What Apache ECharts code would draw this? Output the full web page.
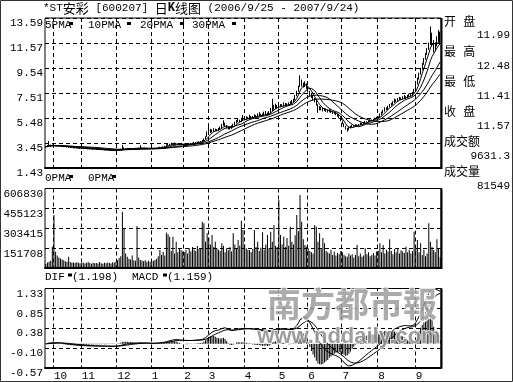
<!DOCTYPE html>
<html><head><meta charset="utf-8">
<script src="https://cdn.jsdelivr.net/npm/echarts@6/dist/echarts.min.js"></script>
<style>html,body{margin:0;padding:0;background:#fff}#c{width:513px;height:382px}</style>
</head><body><div id="c"></div>
<script>
// month labels and number of trading days shown in each month
const monthNames = ['9','10','11','12','1','2','3','4','5','6','7','8','9'];
const monthDays  = [5,17,22,21,20,15,22,21,18,21,22,23,16];

const open = [
 3.12,3.15,3.22,3.30,3.25,
 3.30,3.26,3.22,3.19,3.24,3.21,3.18,3.14,3.16,3.12,3.09,3.12,3.08,3.04,3.06,3.04,3.01,
 3.03,3.02,2.99,3.01,2.98,2.96,2.99,2.96,2.94,2.97,2.94,2.91,2.93,2.89,2.91,2.88,2.86,2.89,2.86,2.85,2.87,2.84,
 2.86,2.88,2.90,2.96,3.05,3.00,2.98,3.02,3.00,3.03,3.01,3.00,3.04,3.02,3.05,3.08,3.03,3.02,3.04,3.00,3.01,
 2.99,3.00,3.02,3.05,3.04,3.08,3.12,3.10,3.15,3.18,3.28,3.35,3.32,3.40,3.36,3.42,3.38,3.33,3.30,3.32,
 3.36,3.35,3.30,3.38,3.42,3.40,3.45,3.50,3.48,3.52,3.55,3.60,3.63,3.82,4.00,
 4.15,4.30,4.45,4.40,4.55,4.50,4.48,4.60,4.70,4.90,5.05,4.85,4.70,4.62,4.65,4.80,4.95,5.10,5.25,5.30,5.20,5.35,
 5.45,5.40,5.50,5.45,5.60,5.50,5.55,5.65,5.60,5.70,5.75,5.68,5.72,5.80,5.85,5.78,5.90,6.10,6.40,6.30,6.45,
 6.35,6.40,6.50,6.45,6.60,6.55,6.54,6.62,6.70,6.80,6.95,7.30,7.66,8.04,8.44,8.20,8.10,8.25,
 8.00,7.60,7.35,7.22,7.00,6.86,6.52,6.25,6.30,6.20,6.13,6.18,6.05,6.00,6.08,5.95,5.86,5.90,5.75,5.65,5.50,
 5.25,5.00,4.78,4.60,4.55,4.70,4.78,4.85,4.80,4.92,4.88,4.95,5.05,5.00,5.10,5.19,5.15,5.25,5.32,5.28,5.38,5.46,
 5.50,5.55,5.75,5.90,6.05,6.27,6.20,6.40,6.54,6.60,6.75,6.94,6.85,7.00,7.08,7.02,7.15,7.21,7.10,7.25,7.35,7.30,7.50,
 7.80,8.30,8.70,9.10,9.50,9.90,10.30,10.70,11.10,11.60,12.20,11.60,11.00,11.40,11.80,11.99
];
const close = [
 3.15,3.22,3.30,3.25,3.28,
 3.25,3.22,3.20,3.24,3.20,3.18,3.15,3.16,3.12,3.10,3.12,3.08,3.05,3.06,3.04,3.02,3.03,
 3.02,3.00,3.01,2.98,2.97,2.99,2.96,2.95,2.97,2.94,2.92,2.93,2.90,2.91,2.88,2.87,2.89,2.86,2.85,2.87,2.84,2.86,
 2.88,2.90,2.95,3.05,3.00,2.98,3.02,3.00,3.03,3.01,3.00,3.04,3.02,3.05,3.08,3.03,3.02,3.04,3.00,3.01,2.99,
 3.00,3.02,3.05,3.04,3.08,3.12,3.10,3.15,3.18,3.28,3.35,3.32,3.40,3.36,3.42,3.38,3.33,3.30,3.32,3.35,
 3.35,3.30,3.38,3.42,3.40,3.45,3.50,3.48,3.52,3.55,3.58,3.62,3.80,3.99,4.15,
 4.30,4.45,4.40,4.55,4.50,4.48,4.60,4.70,4.90,5.05,4.85,4.70,4.62,4.65,4.80,4.95,5.10,5.25,5.30,5.20,5.35,5.45,
 5.40,5.50,5.45,5.60,5.50,5.55,5.65,5.60,5.70,5.75,5.68,5.72,5.80,5.85,5.78,5.90,6.10,6.40,6.30,6.45,6.35,
 6.40,6.50,6.45,6.60,6.55,6.54,6.62,6.70,6.80,6.95,7.30,7.66,8.04,8.44,8.20,8.10,8.25,8.00,
 7.60,7.35,7.22,7.00,6.86,6.52,6.25,6.30,6.20,6.13,6.18,6.05,6.00,6.08,5.95,5.86,5.90,5.75,5.65,5.50,5.25,
 5.00,4.78,4.60,4.55,4.70,4.78,4.85,4.80,4.92,4.88,4.95,5.05,5.00,5.10,5.19,5.15,5.25,5.32,5.28,5.38,5.46,5.50,
 5.55,5.75,5.90,6.05,6.27,6.20,6.40,6.54,6.60,6.75,6.94,6.85,7.00,7.08,7.02,7.15,7.21,7.10,7.25,7.35,7.30,7.50,7.75,
 8.30,8.70,9.10,9.50,9.90,10.30,10.70,11.10,11.50,12.20,11.60,11.00,11.40,11.80,12.00,11.57
];
const low = [
 3.08,3.12,3.18,3.20,3.22,
 3.20,3.18,3.16,3.17,3.18,3.15,3.12,3.12,3.10,3.07,3.07,3.05,3.02,3.02,3.01,2.99,2.99,
 2.99,2.98,2.97,2.96,2.95,2.94,2.94,2.93,2.93,2.92,2.90,2.89,2.88,2.87,2.86,2.85,2.85,2.84,2.82,2.83,2.82,2.82,
 2.84,2.86,2.88,2.94,2.97,2.95,2.96,2.97,2.98,2.98,2.97,2.98,3.00,3.00,3.02,3.00,2.99,3.00,2.97,2.98,2.96,
 2.97,2.98,3.00,3.01,3.02,3.06,3.07,3.08,3.12,3.16,3.25,3.28,3.30,3.32,3.33,3.34,3.30,3.26,3.27,3.30,
 3.32,3.27,3.29,3.35,3.36,3.38,3.42,3.44,3.45,3.49,3.50,3.55,3.60,3.78,3.95,
 4.10,4.25,4.32,4.35,4.42,4.40,4.42,4.55,4.65,4.85,4.80,4.65,4.55,4.55,4.60,4.75,4.90,5.05,5.15,5.12,5.15,5.30,
 5.30,5.35,5.38,5.42,5.45,5.45,5.50,5.52,5.55,5.65,5.60,5.62,5.68,5.72,5.70,5.75,5.85,6.05,6.15,6.22,6.25,
 6.25,6.35,6.38,6.40,6.48,6.45,6.48,6.55,6.65,6.75,6.90,7.25,7.60,8.00,8.05,7.95,8.00,7.85,
 7.55,7.25,7.10,6.90,6.75,6.50,5.90,6.10,6.10,6.02,6.05,5.98,5.92,5.95,5.88,5.80,5.80,5.70,5.60,5.45,5.22,
 4.98,4.75,4.55,4.38,4.50,4.65,4.72,4.74,4.76,4.82,4.84,4.90,4.95,4.97,5.05,5.10,5.12,5.20,5.24,5.25,5.35,5.42,
 5.45,5.50,5.70,5.85,6.00,6.12,6.15,6.35,6.48,6.55,6.70,6.78,6.82,6.95,6.95,7.00,7.10,7.02,7.08,7.20,7.22,7.28,7.45,
 7.75,8.20,8.60,9.00,9.40,9.80,10.20,10.60,11.00,11.40,11.30,10.80,10.90,11.30,11.60,11.41
];
const high = [
 3.20,3.30,3.62,3.33,3.32,
 3.40,3.30,3.26,3.28,3.26,3.23,3.20,3.19,3.18,3.14,3.15,3.13,3.10,3.09,3.08,3.06,3.06,
 3.06,3.04,3.03,3.03,3.00,3.01,3.00,2.98,2.99,2.98,2.95,2.95,2.94,2.93,2.92,2.90,2.91,2.90,2.88,2.89,2.88,2.88,
 2.91,2.93,3.00,3.30,3.10,3.03,3.05,3.04,3.06,3.05,3.03,3.07,3.06,3.08,3.28,3.10,3.06,3.07,3.05,3.04,3.03,
 3.03,3.05,3.08,3.08,3.11,3.15,3.14,3.18,3.22,3.35,3.42,3.40,3.48,3.45,3.50,3.46,3.40,3.36,3.36,3.40,
 3.42,3.38,3.40,3.46,3.45,3.48,3.54,3.53,3.56,3.60,3.62,3.70,3.82,4.00,4.40,
 4.80,4.60,4.55,4.65,4.62,4.58,4.68,4.80,5.00,5.30,5.10,4.90,4.75,4.72,4.88,5.02,5.18,5.32,5.42,5.35,5.50,5.72,
 5.55,5.62,5.58,5.75,5.65,5.65,5.78,5.72,5.85,5.95,5.82,5.85,6.00,6.05,5.92,6.05,6.30,7.05,6.55,6.65,6.55,
 6.55,6.62,6.60,6.75,6.70,6.68,6.75,6.85,6.95,7.05,7.35,7.70,8.10,8.95,8.60,8.35,8.45,8.30,
 8.05,7.70,7.50,7.35,7.10,6.95,6.60,6.45,6.40,6.30,6.30,6.25,6.15,6.20,6.15,6.05,6.00,5.95,5.82,5.72,5.55,
 5.28,5.05,4.85,4.68,4.75,4.85,4.92,4.90,4.98,4.96,5.00,5.12,5.08,5.15,5.25,5.22,5.30,5.38,5.36,5.42,5.52,5.58,
 5.62,5.85,6.00,6.15,6.35,6.35,6.48,6.62,6.70,6.85,7.05,7.00,7.10,7.20,7.15,7.25,7.35,7.25,7.35,7.45,7.42,7.60,7.85,
 8.30,8.75,9.15,9.55,9.95,10.35,10.75,11.15,11.60,12.90,12.40,11.80,11.60,12.10,12.60,12.48
];
const volume = [
 30000,42000,48000,55000,162000,
 404000,124000,95000,80000,72000,65000,60000,52000,48000,86000,45000,40000,42000,38000,44000,40000,36000,
 38000,42000,35000,40000,45000,38000,33000,41000,36000,39000,34000,45000,37000,32000,40000,36000,42000,38000,35000,44000,40000,48000,
 60000,76000,90000,430000,303000,110000,85000,70000,65000,95000,60000,55000,320000,80000,62000,58000,52000,60000,48000,55000,45000,
 50000,55000,62000,70000,90000,137000,100000,124000,95000,270000,257000,239000,130000,239000,110000,200000,120000,150000,137000,125000,
 120000,137000,110000,150000,125000,160000,140000,130000,168000,145000,150000,353000,341000,200000,265000,
 230000,180000,252000,160000,200000,150000,140000,130000,188000,170000,120000,150000,135000,160000,125000,265000,180000,150000,214000,170000,361000,290000,
 180000,150000,140000,137000,120000,145000,290000,160000,200000,130000,155000,272000,140000,180000,252000,150000,277000,200000,328000,170000,160000,
 519000,252000,180000,239000,160000,229000,170000,315000,200000,180000,250000,404000,280000,557000,353000,220000,176000,163000,
 150000,130000,120000,110000,328000,315000,200000,265000,150000,229000,188000,130000,120000,110000,140000,100000,125000,95000,115000,105000,130000,
 120000,100000,90000,85000,110000,95000,105000,80000,100000,176000,90000,110000,85000,95000,150000,105000,120000,90000,100000,115000,95000,125000,
 130000,188000,120000,176000,110000,140000,125000,219000,130000,105000,145000,120000,150000,110000,135000,125000,115000,163000,120000,140000,110000,130000,277000,
 150000,214000,120000,188000,100000,140000,90000,110000,341000,200000,160000,137000,120000,219000,150000,81549
];
const priceTicks = ['1.43','3.45','5.48','7.51','9.54','11.57','13.59'];
const volTicks   = ['','151708','303415','455123','606830'];
const macdTicks  = ['-0.57','-0.10','0.38','0.85','1.33'];
const priceRange = [1.43, 13.59];
const volRange   = [0, 606830];
const macdRange  = [-0.57, 1.33];
const maPeriods  = [5, 10, 20, 30];
const lastAmount = '9631.3';
const difValue = '1.198', deaValue = '1.159';

// categories (one per trading day), month boundaries
const categories = [];
const monthStart = new Set();
monthNames.forEach((m, k) => {
  if (k > 0) monthStart.add(categories.length);
  for (let d = 0; d < monthDays[k]; d++) categories.push(m + '-' + (d + 1));
});

// standard indicators from the close prices
function movingAverage(src, n) {
  return src.map((_, i) => {
    const s = Math.max(0, i - n + 1); let sum = 0;
    for (let j = s; j <= i; j++) sum += src[j];
    return +(sum / (i - s + 1)).toFixed(3);
  });
}
function ema(src, n) {
  const k = 2 / (n + 1), out = [];
  src.forEach((v, i) => out.push(i ? out[i - 1] + k * (v - out[i - 1]) : v));
  return out;
}
const e12 = ema(close, 12), e26 = ema(close, 26);
const dif = close.map((_, i) => e12[i] - e26[i]);
const dea = ema(dif, 9);
const macdBar = dif.map((v, i) => 2 * (v - dea[i]));

const FONT = "'Liberation Mono','DejaVu Sans Mono','Noto Sans CJK SC',monospace";
const GT = [18, 188.5, 288.5], GH = [150, 79.5, 79], GL = 45, GW = 396;
const dash = [4, 3];

function xAx(gi, showLabel) {
  return {
    type: 'category', gridIndex: gi, data: categories, boundaryGap: true,
    axisLine: {show: true, onZero: false, lineStyle: {color: '#000', width: 2}},
    axisTick: {show: false},
    axisLabel: {show: showLabel, interval: (i) => monthStart.has(i), formatter: v => v.split('-')[0],
      align: 'left', verticalAlign: 'top', margin: 3, color: '#000', fontFamily: FONT, fontSize: 11},
    splitLine: {show: true, interval: (i) => monthStart.has(i), lineStyle: {color: '#000', width: 1, type: dash}}
  };
}
function dataAx(gi, r) {
  return {type: 'value', gridIndex: gi, min: r[0], max: r[1], show: false, position: 'left', splitLine: {show: false}};
}
function tickAx(gi, labels) {
  return {
    type: 'value', gridIndex: gi, min: 0, max: labels.length - 1, interval: 1, position: 'left',
    axisLine: {show: false}, axisTick: {show: false},
    axisLabel: {formatter: v => labels[v] || '', verticalAlign: 'top', margin: 2, color: '#000', fontFamily: FONT, fontSize: 11},
    splitLine: {show: true, lineStyle: {color: '#000', width: 1, type: dash}}
  };
}

const series = [{
  type: 'candlestick', xAxisIndex: 0, yAxisIndex: 0, barWidth: 1,
  data: categories.map((_, i) => [open[i], close[i], low[i], high[i]]),
  itemStyle: {color: '#000', color0: '#000', borderColor: '#000', borderColor0: '#000', borderColorDoji: '#000', borderWidth: 1},
  silent: true
}];
maPeriods.forEach(n => series.push({
  type: 'line', xAxisIndex: 0, yAxisIndex: 0, data: movingAverage(close, n), symbol: 'none',
  lineStyle: {color: '#000', width: 1}, silent: true, z: 3
}));
series.push({type: 'bar', xAxisIndex: 1, yAxisIndex: 2, data: volume, barWidth: 1, itemStyle: {color: '#000'}, silent: true});
series.push({type: 'bar', xAxisIndex: 2, yAxisIndex: 4, data: macdBar, barWidth: 1, itemStyle: {color: '#000'}, silent: true});
series.push({type: 'line', xAxisIndex: 2, yAxisIndex: 4, data: dif, symbol: 'none', lineStyle: {color: '#000', width: 1}, silent: true});
series.push({type: 'line', xAxisIndex: 2, yAxisIndex: 4, data: dea, symbol: 'none', lineStyle: {color: '#000', width: 1}, silent: true});

function txt(text, x, y, extra) {
  return {type: 'text', z: 50, silent: true,
    style: Object.assign({text: text, x: x, y: y, fill: '#000', font: '11px ' + FONT, verticalAlign: 'middle', align: 'left'}, extra || {})};
}
function blk(x, y) { return {type: 'rect', z: 50, silent: true, shape: {x: x, y: y, width: 4, height: 3}, style: {fill: '#000'}}; }
const CJK = "12px 'Liberation Mono','Noto Sans CJK SC'";
const n = close.length - 1;
const cjkTok = {fontSize: 13, fontFamily: "'Noto Sans CJK SC'", fill: '#000'};
const graphic = [
  {type: 'rect', z: 60, silent: true, shape: {x: 0.5, y: 0.5, width: 512, height: 381}, style: {fill: 'none', stroke: '#333', lineWidth: 1}},
  {type: 'text', z: 50, silent: true, style: {text: '*ST{c|安彩} [600207] {c|日}{b|K}{c|线图} (2006/9/25 - 2007/9/24)', x: 43, y: 8,
    fill: '#000', font: '11px ' + FONT, verticalAlign: 'middle',
    rich: {b: {fontWeight: 'bold', fontSize: 12, fontFamily: FONT, fill: '#000'}, c: cjkTok}}},
  txt('5PMA', 45, 25), blk(69, 22), txt('10PMA', 88, 25), blk(127, 22),
  txt('20PMA', 140, 25), blk(180, 22), txt('30PMA', 192, 25), blk(232, 22),
  txt('0PMA', 45, 178), blk(69, 175), txt('0PMA', 88, 178), blk(112, 175),
  txt('DIF', 45, 277), blk(68, 273.5), txt('(' + difValue + ')', 72, 277),
  txt('MACD', 132, 277), blk(163, 273.5), txt('(' + deaValue + ')', 167, 277),
  txt('开 盘', 444, 23, {font: CJK}), txt(open[n].toFixed(2), 510, 35.5, {align: 'right'}),
  txt('最 高', 444, 53, {font: CJK}), txt(high[n].toFixed(2), 510, 66.5, {align: 'right'}),
  txt('最 低', 444, 83, {font: CJK}), txt(low[n].toFixed(2), 510, 96.5, {align: 'right'}),
  txt('收 盘', 444, 113, {font: CJK}), txt(close[n].toFixed(2), 510, 126.5, {align: 'right'}),
  txt('成交额', 444, 143, {font: CJK}), txt(lastAmount, 510, 156, {align: 'right'}),
  txt('成交量', 444, 173, {font: CJK}), txt(String(volume[n]), 510, 186, {align: 'right'}),
  {type: 'text', z: 100, silent: true, style: {text: '南方都市報', x: 352, y: 304, fill: 'rgba(150,150,150,0.8)', stroke: 'rgba(255,255,255,0.9)', lineWidth: 2,
    font: "bold 34px 'Noto Sans CJK SC'", align: 'center', verticalAlign: 'middle'}},
  {type: 'text', z: 100, silent: true, style: {text: 'www.nddaily.com', x: 349, y: 337, fill: 'rgba(140,140,140,0.85)', stroke: 'rgba(255,255,255,0.9)', lineWidth: 1.5,
    font: "bold 22px 'Liberation Sans'", align: 'center', verticalAlign: 'middle'}}
];
GT.forEach((t, i) => graphic.push({type: 'line', z: 55, silent: true,
  shape: {x1: GL + GW + 0.5, y1: t, x2: GL + GW + 0.5, y2: t + GH[i] + 1}, style: {stroke: '#000', lineWidth: 2}}));

const chart = echarts.init(document.getElementById('c'), null, {renderer: 'canvas'});
chart.setOption({
  animation: false,
  backgroundColor: '#fff',
  grid: GT.map((t, i) => ({left: GL, top: t, width: GW, height: GH[i], show: true, borderColor: '#000', borderWidth: 1,
    backgroundColor: 'transparent', containLabel: false, outerBoundsMode: 'none'})),
  xAxis: [xAx(0, false), xAx(1, false), xAx(2, true)],
  yAxis: [dataAx(0, priceRange), tickAx(0, priceTicks), dataAx(1, volRange), tickAx(1, volTicks), dataAx(2, macdRange), tickAx(2, macdTicks)],
  series: series,
  graphic: graphic
});
</script></body></html>
